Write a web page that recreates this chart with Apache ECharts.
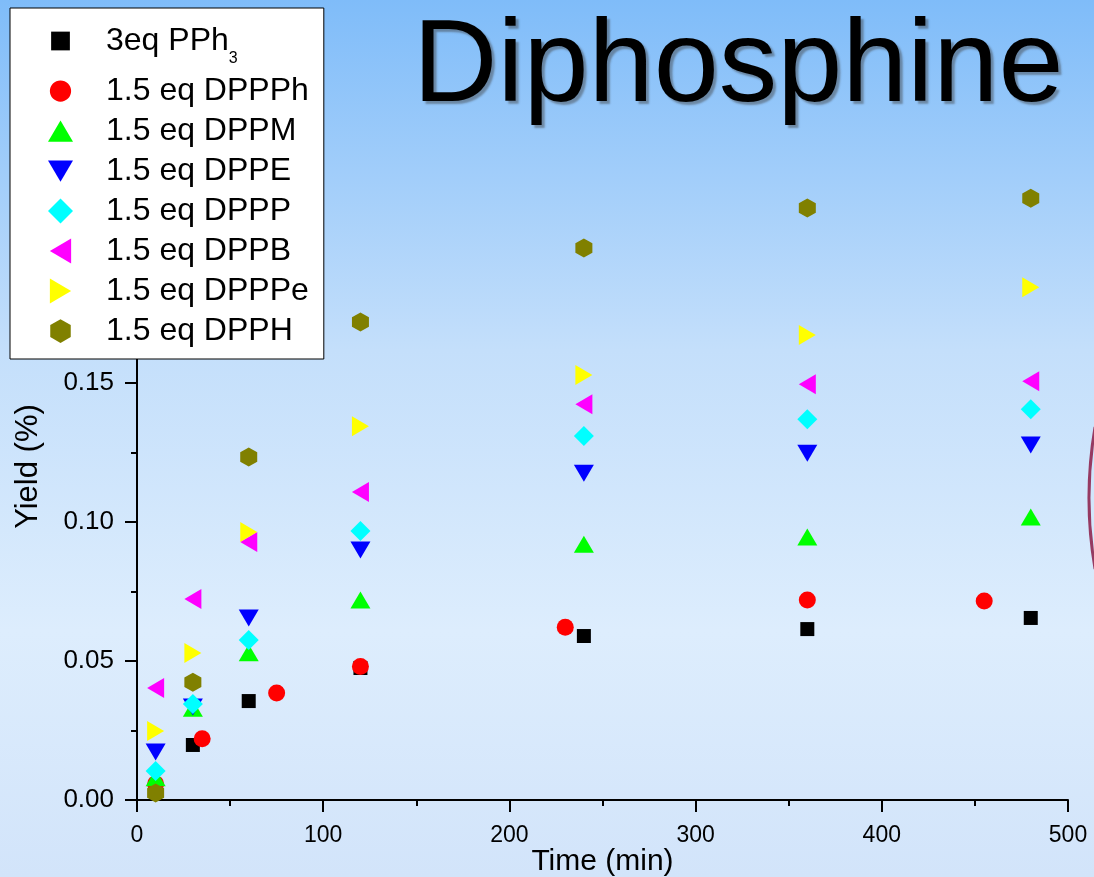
<!DOCTYPE html>
<html>
<head>
<meta charset="utf-8">
<script src="https://cdn.jsdelivr.net/npm/echarts@6/dist/echarts.min.js"></script>
<style>
  html, body { margin: 0; padding: 0; }
  #chart { width: 1094px; height: 877px; }
</style>
</head>
<body>
<div id="chart"></div>
<script>
// ---- data (time in min, yield) ----
const seriesNames = ['3eq PPh3', '1.5 eq DPPPh', '1.5 eq DPPM', '1.5 eq DPPE', '1.5 eq DPPP', '1.5 eq DPPB', '1.5 eq DPPPe', '1.5 eq DPPH'];

const timesPPh3  = [10, 30, 60, 120, 240, 360, 480];
const yieldPPh3  = [0.004, 0.0198, 0.0356, 0.0475, 0.0590, 0.0615, 0.0655];

const timesDPPPh = [10, 35, 75, 120, 230, 360, 455];
const yieldDPPPh = [0.0058, 0.0220, 0.0385, 0.0480, 0.0622, 0.0720, 0.0716];

const timesStd   = [10, 30, 60, 120, 240, 360, 480];
const yieldDPPM  = [0.0080, 0.0330, 0.0530, 0.0720, 0.0920, 0.0946, 0.1018];
const yieldDPPE  = [0.0173, 0.0335, 0.0655, 0.0900, 0.1176, 0.1248, 0.1277];
const yieldDPPP  = [0.0104, 0.0345, 0.0576, 0.0968, 0.1310, 0.1370, 0.1406];
const yieldDPPB  = [0.0403, 0.0723, 0.0928, 0.1108, 0.1424, 0.1496, 0.1507];
const yieldDPPPe = [0.0248, 0.0529, 0.0964, 0.1345, 0.1529, 0.1673, 0.1845];
const yieldDPPH  = [0.0025, 0.0424, 0.1234, 0.1720, 0.1986, 0.2130, 0.2165];

function pairs(xs, ys) { return xs.map((x, i) => [x, ys[i]]); }

const hexPath = 'path://M0,-1 L0.866,-0.5 L0.866,0.5 L0,1 L-0.866,0.5 L-0.866,-0.5 Z';
// legend icons (20x20 box, shapes drawn inside it)
const icSquare = 'path://M0,0 M20,20 M2.5,2.5 L17.5,2.5 L17.5,17.5 L2.5,17.5 Z';
const icCircle = 'path://M0,0 M20,20 M10,1.5 A8.5,8.5 0 1 1 9.99,1.5 Z';
const icUp     = 'path://M0,0 M20,20 M10,1.5 L20,18.5 L0,18.5 Z';
const icDown   = 'path://M0,0 M20,20 M0,1.5 L20,1.5 L10,18.5 Z';
const icLeft   = 'path://M0,0 M20,20 M1.5,10 L18.5,0 L18.5,20 Z';
const icRight  = 'path://M0,0 M20,20 M18.5,10 L1.5,0 L1.5,20 Z';
const icDiam   = 'path://M0,0 M20,20 M10,0 L20,10 L10,20 L0,10 Z';
const icHex    = 'path://M0,0 M20,20 M10,0.5 L18.2,5.25 L18.2,14.75 L10,19.5 L1.8,14.75 L1.8,5.25 Z';

const styles = [
  { color: '#000000', symbol: 'rect', size: [14, 14], rotate: 0, icon: icSquare },
  { color: '#ff0000', symbol: 'circle', size: 17, rotate: 0, icon: icCircle },
  { color: '#00ff00', symbol: 'triangle', size: [20, 17], rotate: 0, icon: icUp },
  { color: '#0000ff', symbol: 'triangle', size: [20, 17], rotate: 180, icon: icDown },
  { color: '#00ffff', symbol: 'diamond', size: [20, 20], rotate: 0, icon: icDiam },
  { color: '#ff00ff', symbol: 'triangle', size: [20, 17], rotate: 90, icon: icLeft },
  { color: '#ffff00', symbol: 'triangle', size: [20, 17], rotate: -90, icon: icRight },
  { color: '#808000', symbol: hexPath, size: [17, 19], rotate: 0, icon: icHex }
];

const dataSets = [
  pairs(timesPPh3, yieldPPh3),
  pairs(timesDPPPh, yieldDPPPh),
  pairs(timesStd, yieldDPPM),
  pairs(timesStd, yieldDPPE),
  pairs(timesStd, yieldDPPP),
  pairs(timesStd, yieldDPPB),
  pairs(timesStd, yieldDPPPe),
  pairs(timesStd, yieldDPPH)
];

const FONT = '"Liberation Sans", Arial, sans-serif';

const chart = echarts.init(document.getElementById('chart'), null, { renderer: 'canvas' });

const option = {
  animation: false,
  backgroundColor: {
    type: 'linear', x: 0, y: 0, x2: 0, y2: 1,
    colorStops: [
      { offset: 0, color: '#7fbcf9' },
      { offset: 0.4, color: '#c4dffb' },
      { offset: 0.72, color: '#ddedfd' },
      { offset: 1, color: '#d2e4fa' }
    ]
  },
  title: {
    text: 'Diphosphine',
    left: 408, top: 5,
    textStyle: {
      fontFamily: FONT, fontSize: 117, fontWeight: 'normal', color: '#000',
      textShadowColor: 'rgba(60,60,60,0.45)', textShadowOffsetX: 3, textShadowOffsetY: 3, textShadowBlur: 2
    }
  },
  grid: { left: 137, right: 26, top: 133, bottom: 77, containLabel: false, outerBoundsMode: 'none' },
  xAxis: {
    type: 'value', min: 0, max: 500, interval: 100,
    name: 'Time (min)', nameLocation: 'middle', nameGap: 47, nameMoveOverlap: false,
    nameTextStyle: { fontFamily: FONT, fontSize: 30, color: '#000' },
    axisLine: { show: true, onZero: false, lineStyle: { color: '#000', width: 2 } },
    axisTick: { show: true, inside: false, length: 12, lineStyle: { color: '#000', width: 2 } },
    minorTick: { show: true, splitNumber: 2, length: 6, lineStyle: { color: '#000', width: 2 } },
    axisLabel: { fontFamily: FONT, fontSize: 23, color: '#000', margin: 24 },
    splitLine: { show: false }
  },
  yAxis: {
    type: 'value', min: 0, max: 0.24, interval: 0.05,
    name: 'Yield (%)', nameLocation: 'middle', nameGap: 93, nameRotate: 90, nameMoveOverlap: false,
    nameTextStyle: { fontFamily: FONT, fontSize: 31, color: '#000' },
    axisLine: { show: true, onZero: false, lineStyle: { color: '#000', width: 2 } },
    axisTick: { show: true, inside: false, length: 12, lineStyle: { color: '#000', width: 2 } },
    minorTick: { show: true, splitNumber: 2, length: 6, lineStyle: { color: '#000', width: 2 } },
    axisLabel: { fontFamily: FONT, fontSize: 26, color: '#000', margin: 23, showMaxLabel: false,
                 formatter: v => v.toFixed(2) },
    splitLine: { show: false }
  },
  legend: {
    orient: 'vertical', left: 10, top: 8,
    padding: [7, 15, 12, 38],
    itemGap: 8, itemWidth: 25, itemHeight: 25,
    backgroundColor: '#ffffff', borderColor: '#000', borderWidth: 1,
    data: seriesNames.map((n, i) => ({
      name: n, icon: styles[i].icon,
      itemStyle: { color: styles[i].color }
    })),
    formatter: name => name === '3eq PPh3' ? '3eq PPh{sub|3}' : name,
    textStyle: {
      fontFamily: FONT, fontSize: 32, color: '#000', lineHeight: 30,
      padding: [0, 0, 0, 28],
      rich: { sub: { fontFamily: FONT, fontSize: 16, color: '#000', lineHeight: 16, padding: [36, 0, 0, 0] } }
    }
  },
  graphic: [
    {
      type: 'arc', z: 10,
      shape: { cx: 1509, cy: 498, r: 420, startAngle: Math.PI - 0.17, endAngle: Math.PI + 0.17 },
      style: { stroke: '#963a62', lineWidth: 3, fill: null }
    }
  ],
  series: seriesNames.map((name, i) => ({
    name: name,
    type: 'scatter',
    data: dataSets[i],
    symbol: styles[i].symbol,
    symbolSize: styles[i].size,
    symbolRotate: styles[i].rotate,
    itemStyle: { color: styles[i].color, opacity: 1 },
    z: 2 + i
  }))
};

chart.setOption(option);
</script>
</body>
</html>
